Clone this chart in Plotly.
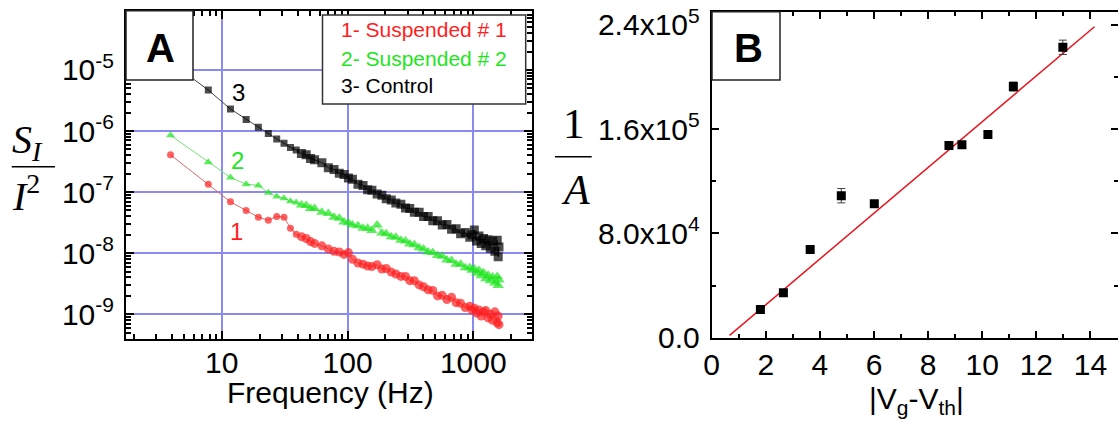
import plotly.graph_objects as go

W, H = 1118, 423

# ---------------- Panel A data (noise spectra) ----------------
freq_hz = [3.91, 7.81, 11.72, 15.62, 19.53, 23.44, 27.34, 31.25, 35.16, 39.06,
           42.97, 46.87, 50.78, 54.68, 62.50, 70.31, 78.12, 85.93, 93.74, 101.6,
           109.4, 121.1, 132.8, 144.5, 156.2, 171.9, 187.5, 203.1, 222.6, 242.2,
           265.6, 289.0, 312.5, 339.8, 371.1, 402.3, 437.5, 476.5, 519.5, 566.4,
           617.1, 671.8, 730.4, 792.9, 863.2, 937.4, 976.5, 1019.5, 1062.4, 1109.3,
           1156.2, 1207.0, 1257.7, 1312.4, 1367.1, 1425.7, 1484.3, 1550.7, 1578.0, 1601.5]

control_log10 = [-4.87, -5.33, -5.64, -5.81, -5.94, -6.04, -6.13, -6.20, -6.27, -6.31,
                 -6.37, -6.39, -6.45, -6.47, -6.52, -6.60, -6.63, -6.69, -6.71, -6.77,
                 -6.79, -6.87, -6.89, -6.96, -6.97, -7.03, -7.05, -7.11, -7.13, -7.18,
                 -7.20, -7.26, -7.27, -7.33, -7.33, -7.40, -7.40, -7.47, -7.47, -7.54,
                 -7.53, -7.61, -7.60, -7.68, -7.66, -7.74, -7.70, -7.62, -7.80, -7.72,
                 -7.84, -7.76, -7.88, -7.78, -7.92, -7.80, -7.97, -7.79, -8.06, -7.90]

susp2_log10 = [-6.07, -6.51, -6.76, -6.87, -6.89, -7.01, -7.07, -7.10, -7.15, -7.17,
               -7.21, -7.22, -7.27, -7.27, -7.33, -7.35, -7.41, -7.43, -7.49, -7.50,
               -7.54, -7.55, -7.59, -7.59, -7.63, -7.54, -7.67, -7.68, -7.73, -7.74,
               -7.79, -7.80, -7.85, -7.86, -7.91, -7.93, -7.98, -7.99, -8.04, -8.05,
               -8.11, -8.12, -8.18, -8.18, -8.24, -8.24, -8.28, -8.26, -8.33, -8.28,
               -8.37, -8.32, -8.42, -8.36, -8.45, -8.39, -8.49, -8.38, -8.53, -8.44]

susp1_log10 = [-6.39, -6.87, -7.16, -7.30, -7.41, -7.46, -7.40, -7.41, -7.59, -7.69,
               -7.73, -7.76, -7.81, -7.84, -7.88, -7.93, -7.97, -7.98, -8.02, -7.99,
               -8.10, -8.16, -8.18, -8.21, -8.22, -8.19, -8.26, -8.25, -8.31, -8.34,
               -8.38, -8.38, -8.45, -8.45, -8.52, -8.55, -8.60, -8.61, -8.70, -8.69,
               -8.76, -8.72, -8.81, -8.82, -8.89, -8.87, -8.93, -8.90, -8.98, -8.93,
               -9.03, -8.96, -8.94, -9.06, -9.00, -9.10, -8.96, -9.14, -9.03, -9.17]

a_xtick_vals = [10, 100, 1000]
a_xtick_text = ["10", "100", "1000"]
a_ytick_vals = [1e-9, 1e-8, 1e-7, 1e-6, 1e-5]
a_ytick_text = ["10<sup>-9</sup>", "10<sup>-8</sup>", "10<sup>-7</sup>",
                "10<sup>-6</sup>", "10<sup>-5</sup>"]
legend_labels = ["1- Suspended # 1", "2- Suspended # 2", "3- Control"]
curve_tags = ["1", "2", "3"]

# ---------------- Panel B data ----------------
vg_minus_vth = [1.80, 2.65, 3.64, 4.79, 6.01, 8.77, 9.25, 10.21, 11.15, 12.98]
inv_A = [21700, 34400, 67600, 108900, 102800, 147400, 148000, 155900, 192600, 222700]
inv_A_err = [1500, 2000, 2000, 5500, 2000, 2000, 2000, 2500, 3500, 5500]
fit_x = [0.66, 14.15]
fit_y = [1800, 238500]
b_ytick_vals = [0, 80000, 160000, 240000]
b_ytick_text = ["0.0", "8.0x10<sup>4</sup>", "1.6x10<sup>5</sup>", "2.4x10<sup>5</sup>"]

RED = "#ff1f1f"
GREEN = "#1ee61e"
BLACK = "#000000"
GRID = "#8a8af0"
SANS = "Arial, 'Liberation Sans', sans-serif"
SERIF = "'Times New Roman', 'Liberation Serif', serif"


def px(x):
    return x / W


def py(y):
    return 1 - y / H


fig = go.Figure()

series = [
    (control_log10, BLACK, "#444444", "square", 7, 9),
    (susp2_log10, GREEN, "#77e077", "triangle-up", 8, 10),
    (susp1_log10, RED, "#e06a6a", "circle", 7, 9),
]
for vals, mcol, lcol, sym, s_lo, s_hi in series:
    # markers pack into a thick band above ~40 Hz, as in the original figure
    sizes = [s_lo if f < 40 else s_hi for f in freq_hz]
    fig.add_trace(go.Scatter(
        x=freq_hz, y=[10 ** v for v in vals], mode="lines+markers",
        line=dict(color=lcol, width=1),
        marker=dict(symbol=sym, size=sizes, color=mcol, line=dict(width=0)),
        xaxis="x", yaxis="y", showlegend=False))

fig.add_trace(go.Scatter(
    x=fit_x, y=fit_y, mode="lines", line=dict(color="#e8141e", width=1.5),
    xaxis="x2", yaxis="y2", showlegend=False))
fig.add_trace(go.Scatter(
    x=vg_minus_vth, y=inv_A, mode="markers",
    marker=dict(symbol="square", size=9, color=BLACK),
    error_y=dict(type="data", array=inv_A_err, color="#444444", thickness=1, width=4),
    xaxis="x2", yaxis="y2", showlegend=False))

# minor tick positions
a_xminor = [k * 10 ** e for e in range(0, 4) for k in range(2, 10) if 1.7 < k * 10 ** e < 2950]
a_yminor = [k * 10.0 ** e for e in range(-10, -4) for k in range(2, 10)]

axis_common = dict(showline=True, linecolor=BLACK, linewidth=2, mirror="allticks",
                   ticks="inside", tickcolor=BLACK, tickwidth=1.5, zeroline=False,
                   tickfont=dict(family=SANS, size=30, color=BLACK), automargin=False)

fig.update_layout(
    width=W, height=H, autosize=False,
    margin=dict(l=0, r=0, t=0, b=0),
    paper_bgcolor="white", plot_bgcolor="white",
    xaxis=dict(domain=[px(126), px(532)], type="log", range=[0.238, 3.467],
               anchor="y", tickmode="array", tickvals=a_xtick_vals, ticktext=a_xtick_text,
               ticklen=8, showgrid=True, gridcolor=GRID, gridwidth=2,
               minor=dict(tickmode="array", tickvals=a_xminor, ticks="inside",
                          ticklen=5, tickcolor=BLACK, showgrid=False),
               ticklabelstandoff=-4, **axis_common),
    yaxis=dict(domain=[py(339.3), py(10.7)], type="log", range=[-9.41, -4.03],
               anchor="x", tickmode="array", tickvals=a_ytick_vals, ticktext=a_ytick_text,
               ticklen=8, showgrid=True, gridcolor=GRID, gridwidth=2,
               minor=dict(tickmode="array", tickvals=a_yminor, ticks="inside",
                          ticklen=5, tickcolor=BLACK, showgrid=False),
               ticklabelstandoff=4, **axis_common),
    xaxis2=dict(domain=[px(711.7), px(1117.5)], range=[0, 15], anchor="y2",
                tickmode="linear", tick0=0, dtick=2, ticklen=7, showgrid=False,
                minor=dict(tickmode="linear", tick0=0, dtick=1, ticks="inside",
                           ticklen=4, tickcolor=BLACK),
                ticklabelstandoff=-1, **axis_common),
    yaxis2=dict(domain=[py(337.7), py(11.7)], range=[0, 250000], anchor="x2",
                tickmode="array", tickvals=b_ytick_vals, ticktext=b_ytick_text,
                ticklen=7, showgrid=False,
                minor=dict(tickmode="linear", tick0=0, dtick=40000, ticks="inside",
                           ticklen=4, tickcolor=BLACK),
                ticklabelstandoff=4, **axis_common),
)

shapes = [
    # panel label boxes and legend box
    dict(type="rect", xref="paper", yref="paper", x0=px(126), x1=px(193), y0=py(80), y1=py(10.7),
         line=dict(color="#222222", width=1.5), fillcolor="white", layer="above"),
    dict(type="rect", xref="paper", yref="paper", x0=px(322.5), x1=px(525.7), y0=py(104), y1=py(15),
         line=dict(color="#333333", width=1.5), fillcolor="white", layer="above"),
    dict(type="rect", xref="paper", yref="paper", x0=px(712), x1=px(780), y0=py(80), y1=py(11.7),
         line=dict(color="#222222", width=1.5), fillcolor="white", layer="above"),
    # fraction bars of axis titles
    dict(type="line", xref="paper", yref="paper", x0=px(11.7), x1=px(55), y0=py(166.7), y1=py(166.7),
         line=dict(color=BLACK, width=1.5)),
    dict(type="line", xref="paper", yref="paper", x0=px(555), x1=px(591.7), y0=py(156.7), y1=py(156.7),
         line=dict(color=BLACK, width=1.5)),
]
fig.update_layout(shapes=shapes)

ann = []


def add_text(text, x, y, size, color=BLACK, family=SANS, xanchor="center", yanchor="middle"):
    ann.append(dict(text=text, x=px(x), y=py(y), xref="paper", yref="paper",
                    xanchor=xanchor, yanchor=yanchor, showarrow=False,
                    font=dict(family=family, size=size, color=color)))


add_text("<b>A</b>", 160.5, 47.5, 40)
add_text("<b>B</b>", 748.5, 47.5, 40)
legend_colors = [RED, GREEN, BLACK]
for lbl, col, yy in zip(legend_labels, legend_colors, [30, 58.3, 86]):
    add_text(lbl, 339, yy, 21, color=col, xanchor="left")
for tag, col, (xx, yy) in zip(curve_tags, [RED, GREEN, BLACK],
                              [(236.5, 231), (237, 160), (238, 92.5)]):
    add_text(tag, xx, yy, 24, color=col)
add_text("Frequency (Hz)", 330, 392, 30)
add_text("|V<sub>g</sub>-V<sub>th</sub>|", 916, 400, 30)
add_text("<i>S</i><sub><i>I</i></sub>", 10, 142, 40, family=SERIF, xanchor="left")
add_text("<i>I</i><sup>2</sup>", 10, 193, 40, family=SERIF, xanchor="left")
add_text("1", 574, 124, 43, family=SERIF)
add_text("<i>A</i>", 575, 190, 42, family=SERIF)
fig.update_layout(annotations=ann)

fig.write_html("out.html", config={"displayModeBar": False},
               post_script="document.body.style.margin='0px';")
